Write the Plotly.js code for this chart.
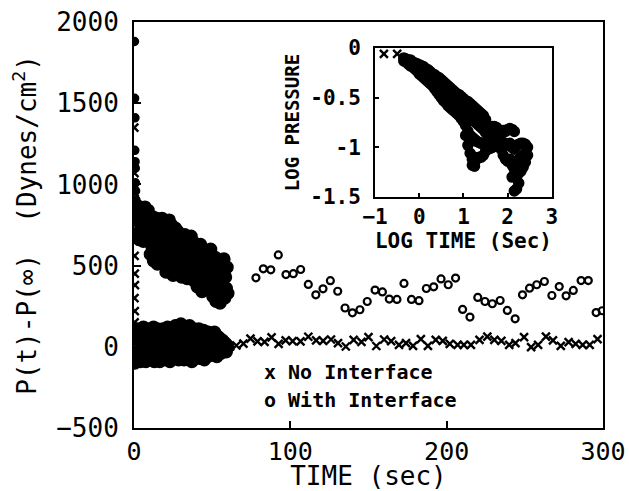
<!DOCTYPE html>
<html>
<head>
<meta charset="utf-8">
<script src="https://cdn.plot.ly/plotly-3.0.1.min.js"></script>
<style>html,body{margin:0;padding:0;background:#fff;}#chart{width:629px;height:491px;}</style>
</head>
<body>
<div id="chart"></div>
<script>
// ---------- main panel: pressure difference vs time ----------
// "With Interface" (o) – early points near t=0
const oEarlyT = [0.3, 0.4, 0.6, 0.5, 0.7, 0.8, 0.9, 1.0, 1.2, 1.4, 1.6, 1.8];
const oEarlyP = [1880, 1530, 1410, 1210, 1140, 1100, 1010, 960, 905, 870, 840, 800];
// dense record, sampled every 0.5 s from t = 2 s
const oDenseStart = 2, oDenseStep = 0.5;
const oDenseP = [
  870, 700, 810, 660, 760, 850, 690, 800, 650, 740, 860, 670, 780, 700, 840, 650,
  780, 570, 700, 620, 800, 530, 660, 740, 580, 790, 510, 690, 750, 610, 550, 720, 790, 560, 650, 770,
  730, 460, 620, 700, 520, 780, 490, 660, 750, 560, 440, 690, 600, 730, 480, 640, 710, 510, 580, 690,
  670, 430, 560, 640, 470, 690, 520, 600, 420, 650, 540, 450, 620, 680, 480, 580, 410, 640, 520, 600,
  610, 370, 520, 580, 420, 630, 460, 340, 560, 500, 380, 590, 440, 540, 360, 580, 470, 400, 600, 500,
  530, 310, 460, 380, 550, 280, 420, 500, 340, 480, 270, 510, 400, 310, 460, 540, 300, 430, 360, 490, 330
];
// sparse record after 75 s
const oT = [78, 82.7, 87.5, 92.3, 97.2, 101.9, 106.6, 111.5, 116.3, 120.9, 125.6, 130.3, 135, 139.7, 144.5, 149.2,
  154.2, 158.9, 163.3, 168.2, 172.7, 177.5, 182.3, 187.0, 191.7, 196.4, 201, 205.7, 210.2, 214.9, 219.9, 224.5,
  229.2, 234.2, 238.8, 243.8, 248.5, 253, 257.6, 262.5, 267.3, 272, 276.4, 281, 286, 290.6, 295.6, 299.5];
const oP = [425, 480, 474, 566, 445, 450, 476, 384, 320, 357, 407, 342, 239, 209, 228, 279,
  349, 338, 294, 292, 390, 292, 284, 359, 369, 418, 382, 423, 230, 183, 304, 279,
  265, 285, 224, 172, 320, 361, 382, 402, 316, 371, 314, 347, 408, 408, 211, 222];

// "No Interface" (x)
const xEarlyT = [0.2, 0.3, 0.4, 0.5, 0.3, 0.4, 0.5, 0.6, 0.3, 0.5, 0.4];
const xEarlyP = [1350, 1070, 950, 880, 700, 560, 450, 380, 300, 220, 150];
const xDenseStart = 0.5, xDenseStep = 0.5;
const xDenseP = [
  -100, 90, -40, 110, -80, 40, 100, -90, 10, 80, -60, 120, -20, 60, -90, 100, 0, -70, 110,
  70, -80, 100, -30, 40, 120, -90, 20, 90, -60, 110, -10, 60, -90, 100, -40, 30, 110, -70, 50,
  100, -80, 10, 120, -50, 70, -90, 110, 30, -20, 100, -70, 60, 130, -40, 20, 100, -80, 80, -10,
  140, -60, 40, 100, -80, 70, 120, -20, -70, 100, 20, 130, -50, 60, -90, 90, 10, 110, -70, 40,
  100, -60, 20, 110, -70, 60, 90, -40, 10, 100, -80, 50, 80, -20, -60, 90, 30, -50, 70, 0,
  70, -50, 30, 90, -40, 60, -60, 20, 60, -30, 50, -40, 10, 40, -30, 30, -20, 20, -30, 10, 0
];
const xT = [61.5, 65.5, 70, 74.5, 79, 83.5, 88, 92.5, 97, 101.5, 106.5, 111.5, 116.5, 121, 126,
  130.5, 135.5, 140.5, 145.5, 150, 155, 160, 164.5, 169.5, 174, 178.5, 183.5, 188, 193, 197.5,
  202, 207, 211, 215.5, 221, 226, 230.5, 235, 240, 244, 249.5, 254, 258.5, 263.5, 268,
  273, 278, 282.5, 287, 291.5, 296.5];
const xP = [2, 8, 20, 50, 33, 30, 58, 18, 40, 35, 33, 62, 40, 37, 45,
  23, 2, 43, 30, 60, 5, 45, 35, 12, 23, 6, 47, 6, 43, 37,
  18, 12, 12, 12, 43, 63, 43, 37, 12, 23, 59, -2, 12, 63, 39,
  6, 29, 18, 12, 12, 47];

// ---------- inset: log pressure vs log time ----------
const insetSparseT = [-0.80, -0.50];
const insetSparseP = [-0.06, -0.06];
const insetT = [
  -0.35,-0.35,-0.30,-0.30,-0.25,-0.25,-0.20,-0.20,-0.15,-0.15,-0.10,-0.10,-0.05,-0.05,0.00,0.00,
  0.05,0.05,0.05,0.10,0.10,0.15,0.15,0.15,0.20,0.20,0.25,0.25,0.25,0.30,0.30,
  0.35,0.35,0.35,0.40,0.40,0.40,0.45,0.45,0.45,0.50,0.50,0.50,0.55,0.55,0.55,0.60,0.60,0.60,
  0.65,0.65,0.65,0.70,0.70,0.70,0.75,0.75,0.75,0.80,0.80,0.80,0.85,0.85,0.85,0.90,0.90,0.90,0.95,0.95,0.95,1.00,1.00,1.00,
  1.05,1.05,1.05,1.05,1.10,1.10,1.10,1.10,1.15,1.15,1.15,1.15,1.20,1.20,1.20,1.20,1.20,1.25,1.25,1.25,1.25,1.25,
  1.30,1.30,1.30,1.30,1.35,1.35,1.35,1.35,1.40,1.40,1.40,1.40,1.45,1.45,1.45,1.45,
  1.50,1.50,1.50,1.55,1.55,1.55,1.60,1.60,1.60,1.65,1.65,1.65,1.70,1.70,1.70,1.75,1.75,1.75,1.80,1.80,
  1.85,1.85,1.85,1.90,1.90,1.90,1.95,1.95,1.95,2.00,2.00,2.00,2.05,2.05,2.05,
  2.10,2.10,2.10,2.10,2.15,2.15,2.15,2.15,2.20,2.20,2.20,2.20,2.25,2.25,2.25,2.25,
  2.30,2.30,2.30,2.35,2.35,2.35,2.40,2.40,2.40,2.45,2.45
];
const insetP = [
  -0.10,-0.13,-0.11,-0.14,-0.12,-0.16,-0.12,-0.18,-0.14,-0.19,-0.15,-0.21,-0.16,-0.23,-0.17,-0.26,
  -0.18,-0.24,-0.28,-0.19,-0.30,-0.21,-0.27,-0.32,-0.22,-0.34,-0.24,-0.30,-0.36,-0.26,-0.38,
  -0.27,-0.34,-0.41,-0.29,-0.37,-0.44,-0.30,-0.39,-0.47,-0.32,-0.41,-0.50,-0.34,-0.44,-0.53,-0.36,-0.46,-0.55,
  -0.38,-0.48,-0.58,-0.40,-0.50,-0.60,-0.42,-0.53,-0.62,-0.44,-0.54,-0.64,-0.46,-0.56,-0.66,-0.47,-0.58,-0.68,-0.49,-0.61,-0.71,-0.51,-0.63,-0.74,
  -0.53,-0.65,-0.78,-0.88,-0.54,-0.68,-0.84,-0.98,-0.56,-0.70,-0.88,-1.06,-0.58,-0.72,-0.90,-1.12,-1.18,-0.60,-0.74,-0.92,-1.10,-1.19,
  -0.62,-0.76,-0.94,-1.12,-0.64,-0.78,-0.95,-1.10,-0.66,-0.80,-0.96,-1.10,-0.68,-0.82,-0.96,-1.08,
  -0.72,-0.85,-1.04,-0.78,-0.88,-1.02,-0.80,-0.90,-1.01,-0.79,-0.89,-1.00,-0.79,-0.90,-0.99,-0.80,-0.90,-0.98,-0.84,-0.92,
  -0.86,-0.95,-1.02,-0.83,-0.95,-1.08,-0.84,-0.97,-1.12,-0.82,-0.98,-1.14,-0.81,-0.96,-1.12,
  -0.82,-1.00,-1.18,-1.30,-0.84,-1.02,-1.22,-1.44,-0.98,-1.14,-1.30,-1.42,-0.97,-1.12,-1.26,-1.36,
  -0.96,-1.10,-1.24,-0.96,-1.08,-1.20,-0.97,-1.06,-1.15,-1.00,-1.08
];

// ---------- labels ----------
const xTickVals = [0, 100, 200, 300];
const yTickVals = [-500, 0, 500, 1000, 1500, 2000];
const insetXTicks = [-1, 0, 1, 2, 3];
const insetYTicks = [0, -0.5, -1, -1.5];
const insetYTickText = ['0', '-0.5', '-1', '-1.5'];
const legendLines = ['x No Interface', 'o With Interface'];
const legendY = [-155, -325];

const FONT = '"DejaVu Sans Mono", "Liberation Mono", monospace';
const K = '#000';

const blob = (sz) => ({ symbol: 'circle', size: sz, color: K, opacity: 1, line: { width: 1.5, color: K } });
const xMark = { symbol: 'x-thin-open', size: 8, color: K, opacity: 1, line: { width: 2.4, color: K } };

const traces = [
  // With Interface
  { x: oEarlyT, y: oEarlyP, mode: 'markers', marker: blob(8), showlegend: false, hoverinfo: 'skip' },
  { x0: oDenseStart, dx: oDenseStep, y: oDenseP, mode: 'markers', marker: blob(12), showlegend: false, hoverinfo: 'skip' },
  { x: oT, y: oP, mode: 'markers', showlegend: false,
    marker: { symbol: 'circle-open', size: 7, color: K, opacity: 1, line: { width: 2.2, color: K } } },
  // No Interface
  { x: xEarlyT, y: xEarlyP, mode: 'markers', showlegend: false, marker: xMark },
  { x0: xDenseStart, dx: xDenseStep, y: xDenseP, mode: 'markers', marker: blob(12), showlegend: false, hoverinfo: 'skip' },
  { x: xT, y: xP, mode: 'markers', showlegend: false, marker: xMark },
  // inset
  { x: insetT, y: insetP, xaxis: 'x2', yaxis: 'y2', mode: 'markers', marker: blob(10), showlegend: false },
  { x: insetSparseT, y: insetSparseP, xaxis: 'x2', yaxis: 'y2', mode: 'markers', showlegend: false, marker: xMark }
];

const axisCommon = {
  showline: true, linecolor: K, linewidth: 2, mirror: true,
  ticks: 'inside', tickcolor: K, tickwidth: 2,
  showgrid: false, zeroline: false
};

const layout = {
  width: 629, height: 491,
  margin: { l: 134, r: 26, t: 22, b: 63, pad: 0 },
  paper_bgcolor: '#fff', plot_bgcolor: '#fff',
  font: { family: FONT, color: K },
  showlegend: false,
  xaxis: Object.assign({}, axisCommon, {
    range: [0, 300], tickvals: xTickVals, ticklen: 7,
    tickfont: { family: FONT, size: 25, color: K },
    title: { text: 'TIME (sec)', font: { family: FONT, size: 26, color: K }, standoff: 0 }
  }),
  yaxis: Object.assign({}, axisCommon, {
    range: [-500, 2000], tickvals: yTickVals, ticklen: 7,
    tickfont: { family: FONT, size: 26, color: K },
    ticklabelstandoff: 8,
    title: { text: 'P(t)-P(∞)  (Dynes/cm<sup>2</sup>)', font: { family: FONT, size: 26, color: K }, standoff: 12 }
  }),
  xaxis2: Object.assign({}, axisCommon, {
    domain: [0.514, 0.891], anchor: 'y2', range: [-1, 3], tickvals: insetXTicks, ticklen: 4,
    tickfont: { family: FONT, size: 21, color: K, weight: 'bold' },
    title: { text: 'LOG TIME (Sec)', font: { family: FONT, size: 21, color: K, weight: 'bold' }, standoff: 2 }
  }),
  yaxis2: Object.assign({}, axisCommon, {
    domain: [0.569, 0.936], anchor: 'x2', range: [-1.5, 0], tickvals: insetYTicks, ticktext: insetYTickText, ticklen: 4,
    tickfont: { family: FONT, size: 21, color: K, weight: 'bold' },
    ticklabelstandoff: 8,
    title: { text: 'LOG PRESSURE', font: { family: FONT, size: 19, color: K, weight: 'bold' }, standoff: 6 }
  }),
  annotations: legendLines.map((t, i) => ({
    text: t, xref: 'x', yref: 'y', x: 82, y: legendY[i],
    xanchor: 'left', yanchor: 'middle', showarrow: false,
    font: { family: FONT, size: 20, color: K, weight: 'bold' }
  }))
};

Plotly.newPlot('chart', traces, layout, { staticPlot: true, displayModeBar: false });
</script>
</body>
</html>
